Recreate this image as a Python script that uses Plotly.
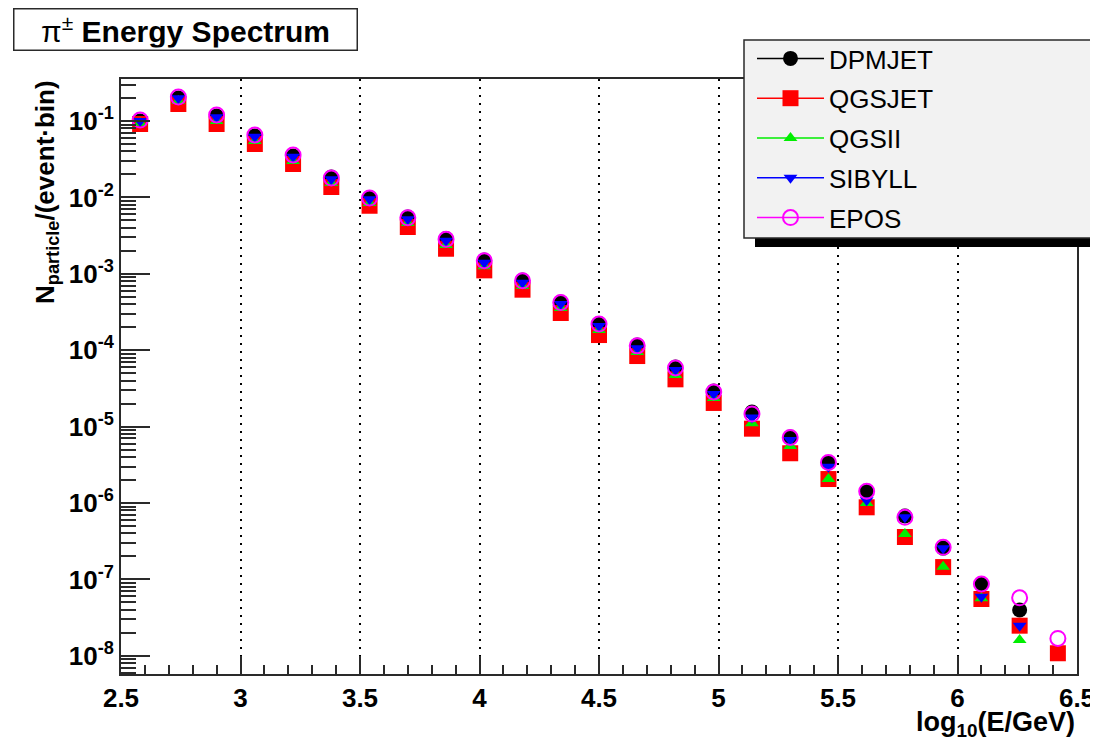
import plotly.graph_objects as go

# ---------------- data ----------------
log_e = [2.58, 2.74, 2.90, 3.06, 3.22, 3.38, 3.54, 3.70, 3.86, 4.02, 4.18, 4.34, 4.50,
         4.66, 4.82, 4.98, 5.14, 5.30, 5.46, 5.62, 5.78, 5.94, 6.10, 6.26, 6.42]

dpmjet = [0.100, 0.200, 0.116, 0.0636, 0.0348, 0.0185, 0.0100, 0.00553, 0.00290, 0.00152,
          0.00083, 0.000428, 0.000224, 0.000117, 6.03e-5, 2.92e-5, 1.55e-5, 7.31e-6,
          3.41e-6, 1.41e-6, 6.76e-7, 2.57e-7, 8.71e-8, 3.98e-8, None]
qgsjet = [0.0914, 0.167, 0.0914, 0.050, 0.0274, 0.01368, 0.00778, 0.0041, 0.00213, 0.00111,
          0.00062, 0.000307, 0.000158, 8.39e-5, 4.16e-5, 2.04e-5, 9.4e-6, 4.48e-6,
          2.06e-6, 8.79e-7, 3.59e-7, 1.45e-7, 5.54e-8, 2.48e-8, 1.08e-8]
qgsii = [0.094, 0.183, 0.100, 0.0547, 0.0299, 0.01543, 0.00845, 0.00462, 0.00238, 0.00126,
         0.000692, 0.000356, 0.000184, 9.46e-5, 4.73e-5, 2.37e-5, 1.11e-5, 5.57e-6,
         2.06e-6, 1.0e-6, 3.93e-7, 1.46e-7, 5.65e-8, 1.61e-8, None]
sibyll = [0.100, 0.198, 0.112, 0.0624, 0.0341, 0.01726, 0.00944, 0.00516, 0.00271, 0.0014,
          0.000766, 0.000403, 0.000208, 0.000106, 5.51e-5, 2.67e-5, 1.32e-5, 6.68e-6,
          2.99e-6, 1.09e-6, 6.5e-7, 2.55e-7, 5.94e-8, 2.47e-8, None]
epos = [0.103, 0.206, 0.120, 0.0657, 0.0359, 0.0179, 0.0098, 0.0054, 0.00283, 0.00148,
        0.00081, 0.00042, 0.00022, 0.000114, 5.85e-5, 2.84e-5, 1.46e-5, 7.2e-6,
        3.4e-6, 1.43e-6, 6.5e-7, 2.63e-7, 8.71e-8, 5.75e-8, 1.69e-8]

series_names = ["DPMJET", "QGSJET", "QGSII", "SIBYLL", "EPOS"]
series_values = [dpmjet, qgsjet, qgsii, sibyll, epos]

y_tick_exponents = [-1, -2, -3, -4, -5, -6, -7, -8]
x_tick_labels = ["2.5", "3", "3.5", "4", "4.5", "5", "5.5", "6", "6.5"]

# ---------------- styles ----------------
styles = {
    "DPMJET": dict(color="#000000", symbol="circle", size=15, open=False),
    "QGSJET": dict(color="#ff0000", symbol="square", size=16, open=False),
    "QGSII": dict(color="#00ee00", symbol="triangle-up", size=12, open=False),
    "SIBYLL": dict(color="#0000ff", symbol="triangle-down", size=12, open=False),
    "EPOS": dict(color="#ff00ff", symbol="circle-open", size=15, open=True),
}

# page is offset by the default 8px body margin
OFF = 8
W, H = 1098 - OFF, 740 - OFF
# plot frame in page pixel coordinates
L, R, T, B = 121, 1077, 79, 674


def px_x(p):
    return (p - L) / (R - L)


def px_y(p):
    return (B - p) / (B - T)


fig = go.Figure()

for name, vals in zip(series_names, series_values):
    st = styles[name]
    mk = dict(color=st["color"], symbol=st["symbol"], size=st["size"])
    if st["open"]:
        mk["line"] = dict(color=st["color"], width=2)
    fig.add_trace(go.Scatter(x=log_e, y=vals, mode="markers", marker=mk,
                             showlegend=False, name=name, cliponaxis=False))

# legend proxies (line + marker), no data
for name in series_names:
    st = styles[name]
    mk = dict(color=st["color"], symbol=st["symbol"], size=st["size"])
    if st["open"]:
        mk["line"] = dict(color=st["color"], width=2)
    fig.add_trace(go.Scatter(x=[None], y=[None], mode="lines+markers", name=name,
                             marker=mk, line=dict(color=st["color"], width=1.5),
                             legendgroup=name, showlegend=True))

font_main = "Liberation Sans, Arial, Helvetica, sans-serif"
axis_col = "#2a2a2a"

minor_y = [k * 10.0 ** e for e in range(-9, 0) for k in range(2, 10)]

fig.update_layout(
    width=W, height=H,
    margin=dict(l=L - OFF, r=W - (R - OFF), t=T - OFF, b=H - (B - OFF), autoexpand=False),
    paper_bgcolor="white", plot_bgcolor="white",
    font=dict(family=font_main, color="black"),
    xaxis=dict(
        range=[2.5, 6.5], tickmode="array",
        tickvals=[float(t) for t in x_tick_labels], ticktext=x_tick_labels,
        ticks="inside", ticklen=18, tickwidth=1.5, tickcolor=axis_col,
        minor=dict(ticks="inside", ticklen=9, tickwidth=1.5, tickcolor=axis_col,
                   dtick=0.1, showgrid=False),
        showline=True, linecolor=axis_col, linewidth=2, mirror=True,
        showgrid=True, gridcolor="black", gridwidth=1.5, griddash="2px,6px",
        tickfont=dict(family=font_main, size=26, weight="bold"),
        zeroline=False,
    ),
    yaxis=dict(
        type="log", range=[-8.238, -0.450], tickmode="array",
        tickvals=[10.0 ** e for e in y_tick_exponents],
        ticktext=["10<sup>%d</sup>" % e for e in y_tick_exponents],
        ticks="inside", ticklen=29, tickwidth=1.5, tickcolor=axis_col,
        minor=dict(ticks="inside", ticklen=15, tickwidth=1.5, tickcolor=axis_col,
                   tickvals=minor_y, showgrid=False),
        showline=True, linecolor=axis_col, linewidth=2, mirror=True,
        showgrid=False,
        tickfont=dict(family=font_main, size=26, weight="bold"),
        zeroline=False,
    ),
    legend=dict(
        x=px_x(752), y=px_y(35), xanchor="left", yanchor="top",
        bgcolor="rgba(0,0,0,0)", borderwidth=0,
        font=dict(family=font_main, size=26, color="black"),
        itemwidth=67, tracegroupgap=3, traceorder="grouped",
    ),
    shapes=[
        # legend shadow + box
        dict(type="rect", xref="paper", yref="paper",
             x0=px_x(755), x1=px_x(1097), y0=px_y(247), y1=px_y(52),
             fillcolor="black", line=dict(width=0), layer="above"),
        dict(type="rect", xref="paper", yref="paper",
             x0=px_x(744), x1=px_x(1091), y0=px_y(238), y1=px_y(40),
             fillcolor="#f2f2f2", line=dict(color=axis_col, width=1.5), layer="above"),
    ],
    annotations=[
        dict(text="π<sup>±</sup> <b>Energy Spectrum</b>", xref="paper", yref="paper",
             x=0, y=1, xanchor="left", yanchor="bottom", xshift=13 - L, yshift=T - 51,
             showarrow=False, width=338, height=36, borderpad=2,
             bordercolor=axis_col, borderwidth=1.5, bgcolor="white",
             font=dict(family=font_main, size=30, color="black")),
        dict(text="<b>log<sub>10</sub>(E/GeV)</b>", xref="paper", yref="paper",
             x=1, y=0, xanchor="right", yanchor="top", yshift=-31,
             showarrow=False, font=dict(family=font_main, size=27, color="black")),
        dict(text="<b>N<sub>particle</sub>/(event·bin)</b>", xref="paper", yref="paper",
             x=0, y=1, xanchor="center", yanchor="top", xshift=-(L - 46), yshift=1,
             textangle=-90, showarrow=False,
             font=dict(family=font_main, size=26, color="black")),
    ],
)

fig.write_html("out.html")
